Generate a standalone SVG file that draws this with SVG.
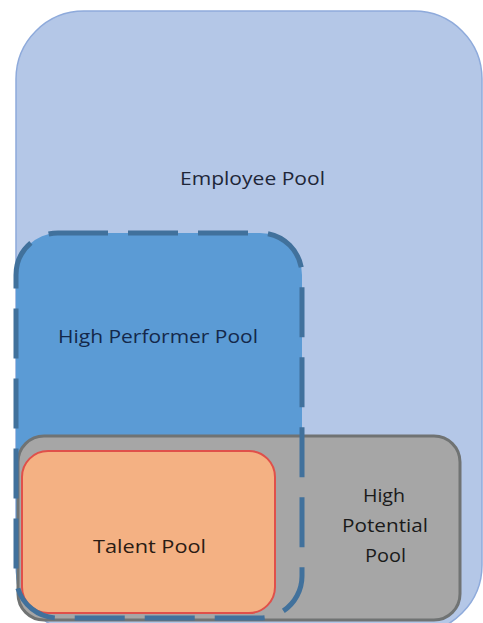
<svg xmlns="http://www.w3.org/2000/svg" width="483" height="623" viewBox="0 0 483 623">
  <style>
    .lbl { font-family: "Open Sans", "Liberation Sans", sans-serif; font-size: 19px; text-anchor: middle; }
    .emp { fill: #b4c7e7; stroke: #8eaadb; stroke-width: 1.5; }
    .hpf { fill: #5b9bd5; stroke: none; }
    .hps { fill: none; stroke: #41719c; stroke-width: 5; stroke-dasharray: 50 20; }
    .pot { fill: #a6a6a6; stroke: #707373; stroke-width: 3; }
    .tal { fill: #f4b183; stroke: #e0504a; stroke-width: 2; }
  </style>
  <rect width="483" height="623" fill="#ffffff"/>
  <g id="employee-pool">
    <rect class="emp" x="16" y="11" width="466" height="622" rx="68" ry="68"/>
    <text class="lbl" x="252.5" y="185" fill="#1e2638" textLength="145" lengthAdjust="spacingAndGlyphs">Employee Pool</text>
  </g>
  <g id="high-performer-pool">
    <path class="hpf" d="M58,233 H260 A42,42 0 0 1 302,275 V576 A42,42 0 0 1 260,618 H58 A42,42 0 0 1 16,576 V275 A42,42 0 0 1 58,233 Z"/>
    <text class="lbl" x="158" y="343" fill="#14284a" textLength="200" lengthAdjust="spacingAndGlyphs">High Performer Pool</text>
  </g>
  <g id="high-potential-pool">
    <rect class="pot" x="18" y="436" width="442" height="184" rx="26" ry="26"/>
    <text class="lbl" x="384" y="502" fill="#1a1a1a" textLength="42" lengthAdjust="spacingAndGlyphs">High</text>
    <text class="lbl" x="385" y="532" fill="#1a1a1a" textLength="86" lengthAdjust="spacingAndGlyphs">Potential</text>
    <text class="lbl" x="385.5" y="562" fill="#1a1a1a" textLength="41" lengthAdjust="spacingAndGlyphs">Pool</text>
  </g>
  <g id="talent-pool">
    <rect class="tal" x="22" y="451" width="253" height="162" rx="26" ry="26"/>
    <text class="lbl" x="149.5" y="553" fill="#2a1c14" textLength="113" lengthAdjust="spacingAndGlyphs">Talent Pool</text>
  </g>
  <g id="high-performer-outline">
    <path class="hps" d="M58,233 H260 A42,42 0 0 1 302,275 V576 A42,42 0 0 1 260,618 H58 A42,42 0 0 1 16,576 V275 A42,42 0 0 1 58,233 Z"/>
  </g>
</svg>
